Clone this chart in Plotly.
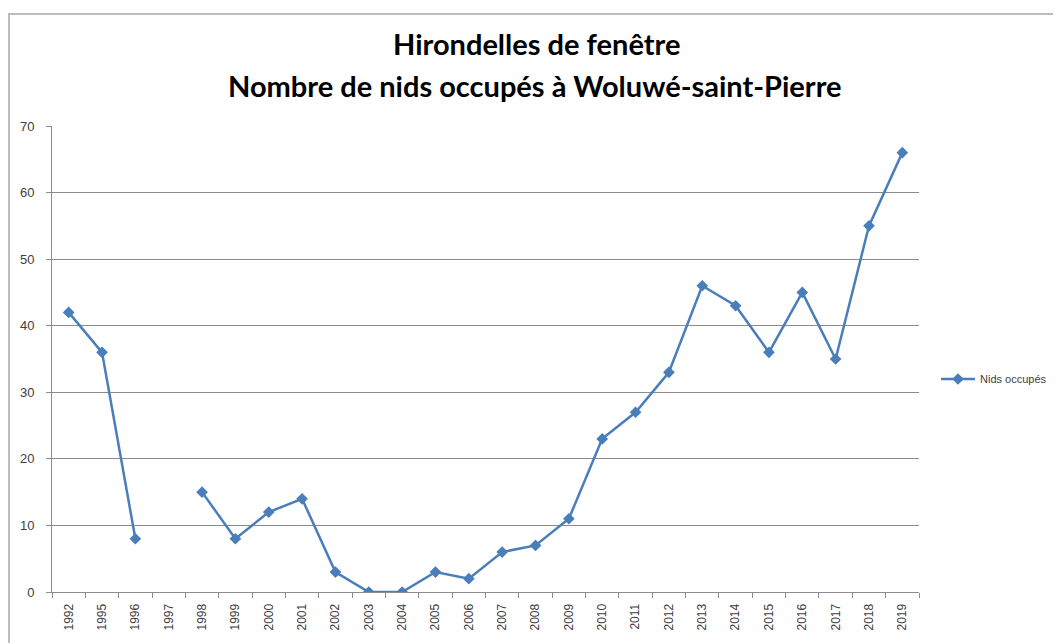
import plotly.graph_objects as go

years = ["1992", "1995", "1996", "1997", "1998", "1999", "2000", "2001", "2002", "2003",
         "2004", "2005", "2006", "2007", "2008", "2009", "2010", "2011", "2012", "2013",
         "2014", "2015", "2016", "2017", "2018", "2019"]
nids = [42, 36, 8, None, 15, 8, 12, 14, 3, 0,
        0, 3, 2, 6, 7, 11, 23, 27, 33, 46,
        43, 36, 45, 35, 55, 66]

title_line1 = "Hirondelles de fenêtre"
title_line2 = "Nombre de nids occupés à Woluwé-saint-Pierre"
series_name = "Nids occupés"

color = "#4A7EBB"
grid = "#8C8C8C"

fig = go.Figure()
fig.add_trace(go.Scatter(
    x=years, y=nids, name=series_name, mode="lines+markers",
    connectgaps=False,
    line=dict(color=color, width=2.5),
    marker=dict(symbol="diamond", size=9, color=color),
))

# page has an 8px body margin; plot area in page coords: x 52..919, y 126..592
OFF = 8
W, H = 1061, 643
L, R, T, B = 52 - OFF, W + OFF - 919, 126 - OFF, H + OFF - 592
pw, ph = W - L - R, H - T - B


def px(x):
    return (x - 52) / pw


def py(y):
    return (592 - y) / ph


title_font = dict(family="Lato, Open Sans, sans-serif", size=29, color="#000000", weight="bold")

fig.update_layout(
    width=W, height=H,
    margin=dict(l=L, r=R, t=T, b=B, pad=0),
    paper_bgcolor="white", plot_bgcolor="white",
    font=dict(family="Liberation Sans, Arial, sans-serif", color="#404040"),
    showlegend=True,
    legend=dict(
        x=px(936), xanchor="left",
        y=py(379), yanchor="middle",
        font=dict(size=11, color="#404040"),
        bgcolor="rgba(0,0,0,0)", itemwidth=34,
    ),
    xaxis=dict(
        type="category", categoryorder="array", categoryarray=years,
        tickson="boundaries", ticks="outside", ticklen=5, tickcolor=grid,
        showline=True, linecolor=grid, linewidth=1,
        showgrid=False, tickangle=-90,
        tickfont=dict(size=12, color="#404040"),
        ticklabelstandoff=6,
        range=[-0.5, len(years) - 0.5],
        fixedrange=True,
    ),
    yaxis=dict(
        range=[0, 70], dtick=10, tick0=0,
        showgrid=True, gridcolor=grid, gridwidth=1,
        showline=True, linecolor=grid, linewidth=1,
        ticks="outside", ticklen=5, tickcolor=grid,
        zeroline=False,
        tickfont=dict(size=13, color="#404040"),
        ticklabelstandoff=9,
    ),
    annotations=[
        dict(text=title_line1, xref="paper", yref="paper", x=px(536), y=py(43),
             xanchor="center", yanchor="middle", showarrow=False, font=title_font),
        dict(text=title_line2, xref="paper", yref="paper", x=px(535), y=py(85),
             xanchor="center", yanchor="middle", showarrow=False, font=title_font),
    ],
    shapes=[
        dict(type="rect", xref="paper", yref="paper",
             x0=px(9), x1=px(W + 30),
             y0=py(H + 30), y1=py(14),
             line=dict(color="#A6A6A6", width=1.5), fillcolor="rgba(0,0,0,0)",
             layer="below"),
    ],
)

fig.write_html("out.html")
